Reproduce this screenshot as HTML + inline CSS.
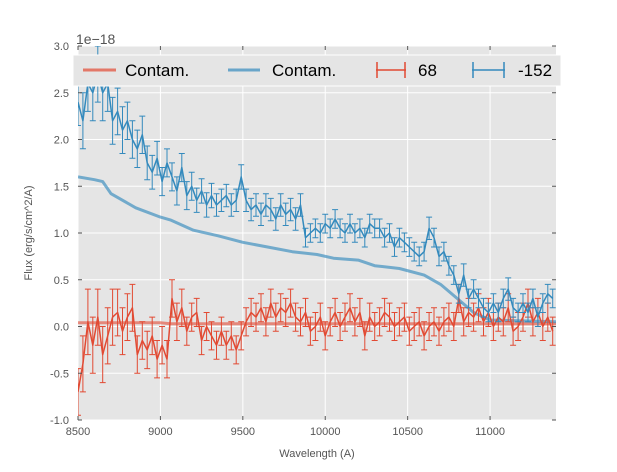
<!DOCTYPE html>
<html><head><meta charset="utf-8"><style>
body{margin:0;background:#fff;}
svg text{font-family:"Liberation Sans",sans-serif;}
</style></head><body>
<svg id="chart" width="617" height="467" xmlns="http://www.w3.org/2000/svg">
<rect x="78" y="46" width="478" height="374" fill="#e5e5e5"/>
<g id="grid"></g>
<g id="series"></g>
<g id="ticks"></g>
<text x="76" y="44" font-size="14" fill="#555">1e−18</text>
<text x="317" y="457" font-size="11" fill="#555" text-anchor="middle">Wavelength (A)</text>
<text transform="translate(32,233) rotate(-90)" font-size="11" fill="#555" text-anchor="middle">Flux (erg/s/cm^2/A)</text>
<g>
<rect x="73" y="55" width="488" height="31" fill="#e5e5e5" stroke="#fff" stroke-width="1"/>
<line x1="83" y1="70" x2="116" y2="70" stroke="#E24A33" stroke-opacity="0.7" stroke-width="3"/>
<text x="125" y="76" font-size="17" fill="#000">Contam.</text>
<line x1="228" y1="70" x2="260" y2="70" stroke="#348ABD" stroke-opacity="0.7" stroke-width="3"/>
<text x="272" y="76" font-size="17" fill="#000">Contam.</text>
<path d="M376 70H406M377 62V78M405 62V78" stroke="#E24A33" stroke-width="1.5" fill="none"/>
<text x="418" y="76" font-size="17" fill="#000">68</text>
<path d="M472 70H505M473 62V78M504 62V78" stroke="#348ABD" stroke-width="1.5" fill="none"/>
<text x="518" y="76" font-size="17" fill="#000">-152</text>
</g>
</svg>
<script>
const waveStart = 8500, waveStep = 30;
const xTicks = [8500, 9000, 9500, 10000, 10500, 11000];
const yTicks = [-1.0, -0.5, 0.0, 0.5, 1.0, 1.5, 2.0, 2.5, 3.0];
const blueFlux = [2.4,2.2,2.6,2.5,2.7,2.5,2.6,2.2,2.3,2.1,2.2,2.0,1.9,2.05,1.75,1.65,1.8,1.55,1.75,1.6,1.45,1.7,1.4,1.5,1.35,1.45,1.3,1.4,1.3,1.35,1.4,1.3,1.35,1.6,1.35,1.25,1.3,1.2,1.3,1.25,1.15,1.3,1.2,1.25,1.15,1.3,0.95,1.0,1.05,1.0,1.1,1.05,1.15,1.05,1.0,1.1,1.0,1.05,0.95,1.1,1.05,1.05,0.95,1.0,0.85,0.95,0.9,0.85,0.8,0.75,0.8,1.05,0.95,0.75,0.8,0.65,0.55,0.35,0.55,0.3,0.4,0.3,0.2,0.15,0.25,0.15,0.3,0.4,0.2,0.15,0.25,0.15,0.3,0.1,0.25,0.35,0.3];
const blueErr = [0.25,0.3,0.3,0.3,0.3,0.3,0.3,0.25,0.25,0.25,0.2,0.2,0.2,0.2,0.18,0.18,0.18,0.15,0.15,0.15,0.15,0.15,0.15,0.15,0.13,0.13,0.13,0.13,0.12,0.12,0.12,0.12,0.12,0.13,0.12,0.12,0.12,0.12,0.12,0.12,0.12,0.12,0.12,0.12,0.12,0.12,0.1,0.1,0.1,0.1,0.1,0.1,0.1,0.1,0.1,0.1,0.1,0.1,0.1,0.1,0.1,0.1,0.1,0.1,0.1,0.1,0.1,0.1,0.1,0.1,0.1,0.12,0.1,0.1,0.1,0.1,0.1,0.1,0.12,0.1,0.1,0.1,0.1,0.1,0.1,0.1,0.1,0.12,0.1,0.1,0.1,0.1,0.1,0.1,0.1,0.1,0.1];
const redFlux = [-0.7,-0.4,0.05,-0.2,0.1,-0.3,-0.1,0.1,0.15,-0.05,0.1,0.2,-0.3,-0.15,-0.25,-0.1,-0.35,-0.2,-0.35,0.3,0.05,0.2,-0.05,0.1,0.15,-0.15,0.0,-0.1,-0.2,-0.05,-0.2,-0.1,-0.25,-0.1,0.05,0.15,0.1,0.2,0.05,0.25,0.1,0.2,0.15,0.25,0.1,0.05,0.15,-0.05,0.0,0.1,-0.1,0.05,0.15,0.0,0.1,0.2,0.05,0.15,-0.1,0.1,0.0,0.05,0.15,0.1,0.0,0.05,0.1,-0.05,0.0,0.05,-0.1,0.0,0.05,-0.05,0.05,0.1,0.0,0.3,0.05,0.15,0.1,0.2,0.05,0.15,0.0,0.1,0.05,0.2,-0.05,0.0,0.1,0.25,0.05,0.15,0.0,0.1,-0.05];
const redErr = [0.25,0.3,0.35,0.3,0.3,0.3,0.3,0.3,0.25,0.25,0.25,0.25,0.2,0.2,0.2,0.2,0.2,0.2,0.2,0.2,0.2,0.2,0.15,0.15,0.15,0.15,0.15,0.15,0.15,0.15,0.15,0.15,0.15,0.15,0.15,0.15,0.15,0.15,0.15,0.15,0.15,0.15,0.15,0.15,0.15,0.15,0.15,0.15,0.15,0.15,0.15,0.15,0.15,0.15,0.15,0.15,0.15,0.15,0.15,0.15,0.15,0.15,0.15,0.15,0.15,0.15,0.15,0.15,0.15,0.15,0.15,0.15,0.15,0.15,0.15,0.15,0.15,0.15,0.15,0.15,0.15,0.15,0.15,0.15,0.15,0.15,0.15,0.15,0.15,0.15,0.15,0.15,0.15,0.15,0.15,0.15,0.15];
const contamWave = [8500,8600,8650,8700,8850,9000,9060,9200,9350,9500,9650,9800,9950,10050,10200,10300,10450,10600,10700,10800,10900,11000,11400];
const blueContam = [1.6,1.57,1.55,1.42,1.27,1.17,1.14,1.03,0.97,0.9,0.85,0.8,0.77,0.73,0.71,0.65,0.62,0.55,0.45,0.3,0.15,0.07,0.05];
const redContam = [0.04,0.04,0.04,0.04,0.04,0.04,0.03,0.03,0.03,0.03,0.03,0.03,0.03,0.03,0.03,0.03,0.03,0.03,0.03,0.03,0.03,0.03,0.03];

const NS = 'http://www.w3.org/2000/svg';
const X0 = 78, X1 = 556, Y0 = 420, Y1 = 46;
const xmin = 8500, xmax = 11400, ymin = -1, ymax = 3;
function sx(v){ return X0 + (v - xmin) / (xmax - xmin) * (X1 - X0); }
function sy(v){ return Y0 - (v - ymin) / (ymax - ymin) * (Y0 - Y1); }
function mk(tag, attrs, parent){ const e = document.createElementNS(NS, tag); for (const k in attrs) e.setAttribute(k, attrs[k]); parent.appendChild(e); return e; }
const grid = document.getElementById('grid'), ticks = document.getElementById('ticks'), series = document.getElementById('series');
xTicks.forEach(t => {
  const g = mk('line', {x1: sx(t), x2: sx(t), y1: Y1, y2: Y0, stroke: '#fff', 'stroke-width': 1}, grid);
  
  
  const tm = mk('path', {d: `M${sx(t)} ${Y0}v-4M${sx(t)} ${Y1}v4`, stroke: '#555', 'stroke-width': 1}, ticks);
  
  
  const l = mk('text', {x: sx(t), y: Y0 + 15, 'font-size': 11, fill: '#555', 'text-anchor': 'middle'}, ticks);
  l.textContent = t;
  
  
});
yTicks.forEach(t => {
  const g = mk('line', {x1: X0, x2: X1, y1: sy(t), y2: sy(t), stroke: '#fff', 'stroke-width': 1}, grid);
  
  
  const tm = mk('path', {d: `M${X0} ${sy(t)}h4M${X1} ${sy(t)}h-4`, stroke: '#555', 'stroke-width': 1}, ticks);
  
  
  const l = mk('text', {x: X0 - 9, y: sy(t) + 4, 'font-size': 11, fill: '#555', 'text-anchor': 'end'}, ticks);
  l.textContent = t.toFixed(1);
  
  
});
const clip = mk('clipPath', {id: 'pc'}, document.getElementById('chart'));
mk('rect', {x: X0, y: Y1, width: X1 - X0, height: Y0 - Y1}, clip);
series.setAttribute('clip-path', 'url(#pc)');
function line(ws, vs, color, w, op, name){
  let d = '';
  for (let i = 0; i < Math.min(ws.length, vs.length); i++) d += (i ? 'L' : 'M') + sx(ws[i]).toFixed(1) + ' ' + sy(vs[i]).toFixed(1);
  const p = mk('path', {d: d, stroke: color, 'stroke-width': w, 'stroke-opacity': op, fill: 'none', 'stroke-linejoin': 'round'}, series);
  
  
}
function errs(vs, es, color, name){
  const n = Math.min(vs.length, es.length);
  const ws = []; for (let i = 0; i < n; i++) ws.push(waveStart + waveStep * i);
  let d = '';
  for (let i = 0; i < n; i++){
    const x = sx(ws[i]), a = sy(vs[i] - es[i]), b = sy(vs[i] + es[i]);
    d += `M${x.toFixed(1)} ${a.toFixed(1)}V${b.toFixed(1)}M${(x-3).toFixed(1)} ${a.toFixed(1)}h6M${(x-3).toFixed(1)} ${b.toFixed(1)}h6`;
  }
  const p = mk('path', {d: d, stroke: color, 'stroke-width': 1, fill: 'none'}, series);
  
  
  line(ws, vs, color, 1.5, 1, name + '-line');
}
line(contamWave, redContam, '#E24A33', 3, 0.6, 'red-contam-line');
line(contamWave, blueContam, '#348ABD', 3, 0.65, 'blue-contam-line');
errs(redFlux, redErr, '#E24A33', 'series-68');
errs(blueFlux, blueErr, '#348ABD', 'series-152');
</script>
</body></html>
